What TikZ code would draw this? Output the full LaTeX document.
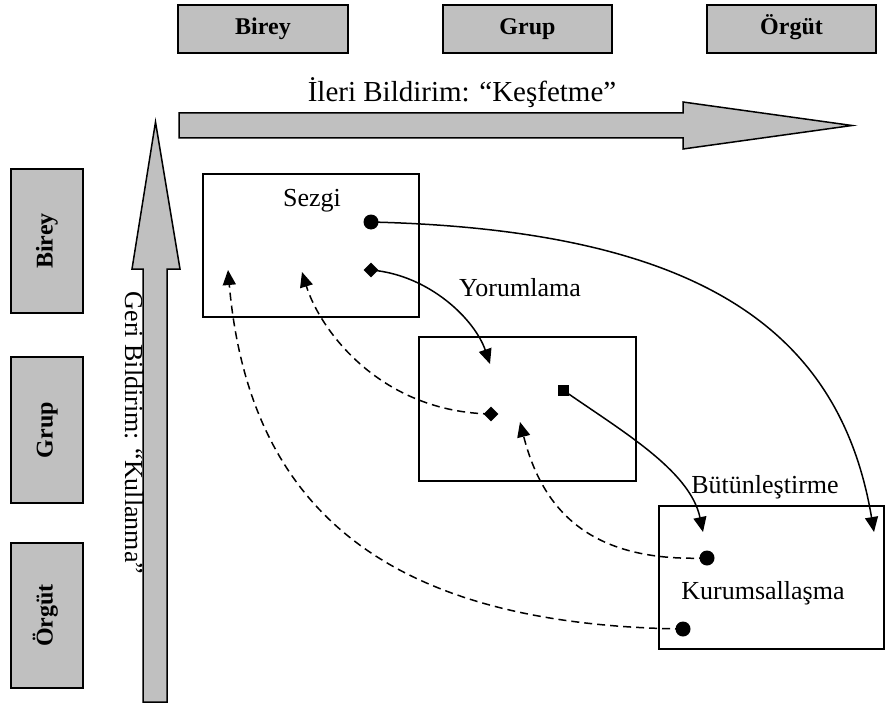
\documentclass[tikz,border=0pt]{standalone}
\usepackage{fontspec}
\setmainfont{Liberation Serif}
\usetikzlibrary{arrows.meta,shapes.geometric}
\definecolor{boxgray}{RGB}{192,192,192}
\begin{document}
\begin{tikzpicture}[x=1pt,y=-1pt,
  lab/.style={draw=black,line width=2pt,fill=boxgray,inner sep=0pt,text height=16pt,text depth=5pt,font=\fontsize{24}{26}\selectfont\bfseries},
  area/.style={draw=black,line width=1.5pt,inner sep=0pt},
  txt/.style={font=\fontsize{26}{28}\selectfont,inner sep=0pt},
  bigarrow/.style={draw=black,line width=1.5pt,fill=boxgray},
  dot/.style={circle,fill=black,inner sep=0pt,minimum size=15pt},
  dia/.style={diamond,fill=black,inner sep=0pt,minimum size=15pt},
  sq/.style={rectangle,fill=black,inner sep=0pt,minimum size=11pt},
  flow/.style={line width=1.5pt,-{Triangle[length=15pt,width=13pt]}},
  back/.style={flow,dash pattern=on 8pt off 5pt}]
\useasboundingbox (0,0) rectangle (891,706);
% top labels
\node[lab,minimum width=170pt,minimum height=48pt] (tbirey) at (263,29) {Birey};
\node[lab,minimum width=169pt,minimum height=48pt] (tgrup) at (527.5,29) {Grup};
\node[lab,minimum width=169pt,minimum height=48pt] (torgut) at (791.5,29) {Örgüt};
% left labels
\node[lab,rotate=90,minimum width=144pt,minimum height=72pt] (lbirey) at (47,241) {Birey};
\node[lab,rotate=90,minimum width=146pt,minimum height=72pt] (lgrup) at (47,430) {Grup};
\node[lab,rotate=90,minimum width=145pt,minimum height=72pt] (lorgut) at (47,615.5) {Örgüt};
% big arrows
\draw[bigarrow] (179,113) -- (683,113) -- (683,102) -- (852,125.5) -- (683,149) -- (683,138) -- (179,138) -- cycle;
\draw[bigarrow] (143,702) -- (143,269) -- (132,269) -- (155.5,122) -- (180,269) -- (167,269) -- (167,702) -- cycle;
\node[txt,font=\fontsize{29}{31}\selectfont] (ileri) at (462,93) {İleri Bildirim: “Keşfetme”};
\node[txt,rotate=-90] (geri) at (134,433) {Geri Bildirim: “Kullanma”};
% areas
\node[area,minimum width=216pt,minimum height=143pt] (sezgibox) at (311,245.5) {};
\node[area,minimum width=217pt,minimum height=144pt] (midbox) at (527.5,409) {};
\node[area,minimum width=225pt,minimum height=143pt] (kurbox) at (771.5,577.5) {};
\node[txt] (sezgi) at (312,201) {Sezgi};
\node[txt] (yorum) at (520,288) {Yorumlama};
\node[txt] (butun) at (765,487) {Bütünleştirme};
\node[txt] (kurum) at (763,593) {Kurumsallaşma};
% markers
\node[dot] (s1) at (371,222) {};
\node[dia] (s2) at (371,270) {};
\node[dia] (m1) at (491,414) {};
\node[sq]  (m2) at (563,390) {};
\node[dot] (k1) at (707,558) {};
\node[dot] (k2) at (683,629) {};
% arrow end points
\coordinate (e1) at (874,532);
\coordinate (e2) at (490,364);
\coordinate (e3) at (703,532);
\coordinate (e4) at (302,272);
\coordinate (e5) at (520,422);
\coordinate (e6) at (228,270);
% connectors
\draw[flow] (s1.center) .. controls (700,230) and (840,330) .. (e1);
\draw[flow] (s2.center) .. controls (430,275) and (475,320) .. (e2);
\draw[flow] (m2.center) .. controls (620,430) and (690,470) .. (e3);
\draw[back] (m1.center) .. controls (380,412) and (320,330) .. (e4);
\draw[back] (k1.center) .. controls (600,562) and (545,520) .. (e5);
\draw[back] (k2.center) .. controls (400,625) and (250,520) .. (e6);
\end{tikzpicture}
\end{document}
